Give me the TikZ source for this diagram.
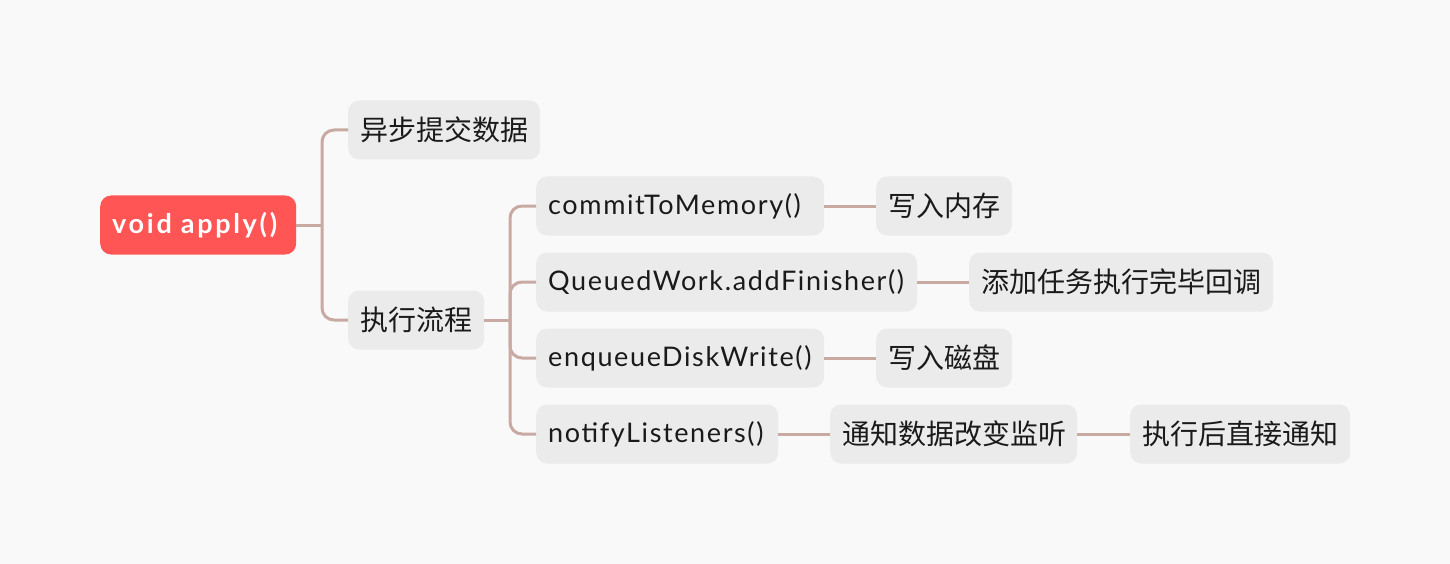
\documentclass[tikz,border=0pt]{standalone}
\usepackage{fontspec}
\setmainfont{Lato}[LetterSpace=6]
\newfontfamily\cjk{Noto Sans CJK SC}
\newfontfamily\rootfont{Lato}[LetterSpace=10]
\definecolor{bg}{HTML}{F9F9F9}
\definecolor{nodefill}{HTML}{EBEBEB}
\definecolor{rootfill}{HTML}{FF5555}
\definecolor{conncol}{HTML}{C9AAA2}
\definecolor{txt}{HTML}{1A1A1A}
\tikzset{
  box/.style={fill=nodefill, rounded corners=11pt, minimum height=59pt, inner xsep=12pt, inner ysep=0pt, text=txt, font=\fontsize{27}{30}\selectfont, anchor=west, align=left, text width=#1},
  cbox/.style={box=#1, font=\fontsize{28}{30}\selectfont\cjk},
  rootbox/.style={box=#1, fill=rootfill, text=white, font=\fontsize{27}{30}\selectfont\rootfont\bfseries},
  conn/.style={draw=conncol, line width=3pt},
}
\begin{document}
\begin{tikzpicture}[x=1pt,y=-1pt]
\fill[bg] (0,0) rectangle (1450,564);
\useasboundingbox (0,0) rectangle (1450,564);
\node[rootbox=172pt] (root) at (100,225) {void apply()};
\node[cbox=168pt] (a) at (348,130) {异步提交数据};
\node[cbox=112pt] (b) at (348,320) {执行流程};
\node[box=264pt] (c1) at (536,206) {commitToMemory()};
\node[box=357pt] (c2) at (536,282) {QueuedWork.addFinisher()};
\node[box=264pt] (c3) at (536,358) {enqueueDiskWrite()};
\node[box=218pt] (c4) at (536,434) {notifyListeners()};
\node[cbox=112pt] (d1) at (876,206) {写入内存};
\node[cbox=280pt] (d2) at (969,282) {添加任务执行完毕回调};
\node[cbox=112pt] (d3) at (876,358) {写入磁盘};
\node[cbox=223pt] (d4) at (830,434) {通知数据改变监听};
\node[cbox=196pt] (e4) at (1130,434) {执行后直接通知};
\coordinate (j1) at (322,225);
\coordinate (j2) at (510,320);
\draw[conn] (root.east) -- (j1);
\draw[conn, rounded corners=12pt] (a.west) -| (j1) |- (b.west);
\draw[conn] (b.east) -- (j2);
\draw[conn, rounded corners=12pt] (c1.west) -| (j2) |- (c4.west);
\draw[conn, rounded corners=12pt] (j2) |- (c2.west);
\draw[conn, rounded corners=12pt] (j2) |- (c3.west);
\draw[conn] (c1.east) -- (d1.west);
\draw[conn] (c2.east) -- (d2.west);
\draw[conn] (c3.east) -- (d3.west);
\draw[conn] (c4.east) -- (d4.west);
\draw[conn] (d4.east) -- (e4.west);
\end{tikzpicture}
\end{document}
